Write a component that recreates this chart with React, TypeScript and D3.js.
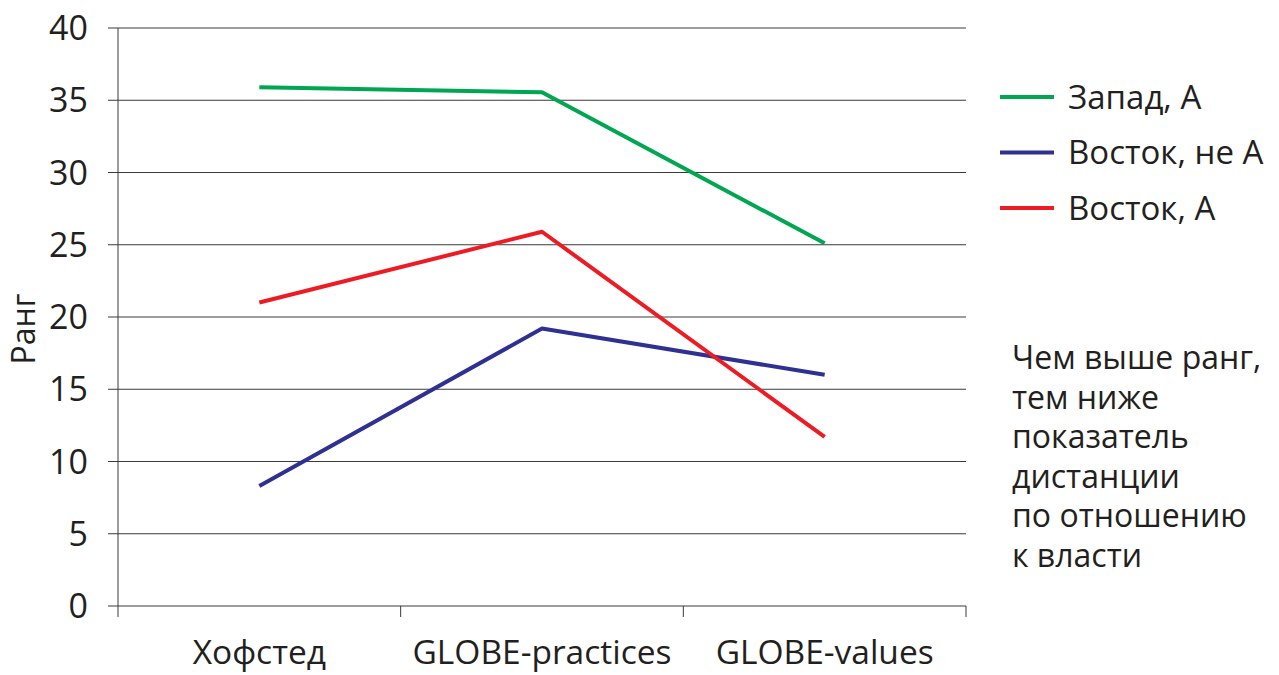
import React from "react";
import * as d3 from "d3";

const categories = ["Хофстед", "GLOBE-practices", "GLOBE-values"];
const seriesNames = ["Запад, А", "Восток, не А", "Восток, А"];
const westA = [35.9, 35.55, 25.1];
const eastNotA = [8.3, 19.2, 16.0];
const eastA = [21.0, 25.9, 11.7];
const yTicks = [0, 5, 10, 15, 20, 25, 30, 35, 40];
const colors = ["#00a651", "#2e3192", "#ed1c24"];
const note = ["Чем выше ранг,", "тем ниже", "показатель", "дистанции", "по отношению", "к власти"];

export default function App() {
  const W = 1279, H = 675;
  const left = 118, right = 966, top = 28, bottom = 606;
  const x = d3.scaleBand<string>().domain(categories).range([left, right]);
  const y = d3.scaleLinear().domain([0, 40]).range([bottom, top]);
  const data = [westA, eastNotA, eastA];
  const line = d3
    .line<number>()
    .x((_, i) => (x(categories[i]) as number) + x.bandwidth() / 2)
    .y((d) => y(d));
  const font = "'Open Sans', sans-serif";
  return (
    <svg width={W} height={H} style={{ position: "absolute", left: 0, top: 0, background: "#fff" }} fontFamily={font}>
      {yTicks.map((t) => (
        <g key={t}>
          <line x1={left - 10} x2={right} y1={y(t)} y2={y(t)} stroke="#3a3a3a" strokeWidth={1} />
          <text x={88} y={y(t)} dy="0.36em" textAnchor="end" fontSize={34} fill="#231f20">
            {t}
          </text>
        </g>
      ))}
      <line x1={left} x2={left} y1={top} y2={bottom + 11} stroke="#3a3a3a" strokeWidth={1} />
      {categories.map((c, i) => (
        <line key={"tk" + i} x1={(x(c) as number) + x.bandwidth()} x2={(x(c) as number) + x.bandwidth()} y1={bottom} y2={bottom + 11} stroke="#3a3a3a" strokeWidth={1} />
      ))}
      {categories.map((c) => (
        <text key={c} x={(x(c) as number) + x.bandwidth() / 2} y={664} textAnchor="middle" fontSize={33.5} fill="#231f20">
          {c}
        </text>
      ))}
      <text transform={`translate(35,329) rotate(-90)`} textAnchor="middle" fontSize={32} fill="#231f20">
        Ранг
      </text>
      {data.map((d, i) => (
        <path key={i} d={line(d) || ""} fill="none" stroke={colors[i]} strokeWidth={4} strokeLinejoin="round" />
      ))}
      {seriesNames.map((s, i) => (
        <g key={s}>
          <line x1={1000} x2={1054} y1={97 + i * 55.5} y2={97 + i * 55.5} stroke={colors[i]} strokeWidth={4} />
          <text x={1068} y={97 + i * 55.5} dy="0.36em" fontSize={33} fill="#231f20">
            {s}
          </text>
        </g>
      ))}
      {note.map((l, i) => (
        <text key={i} x={1012} y={369 + i * 39.6} fontSize={32} fill="#231f20">
          {l}
        </text>
      ))}
    </svg>
  );
}
